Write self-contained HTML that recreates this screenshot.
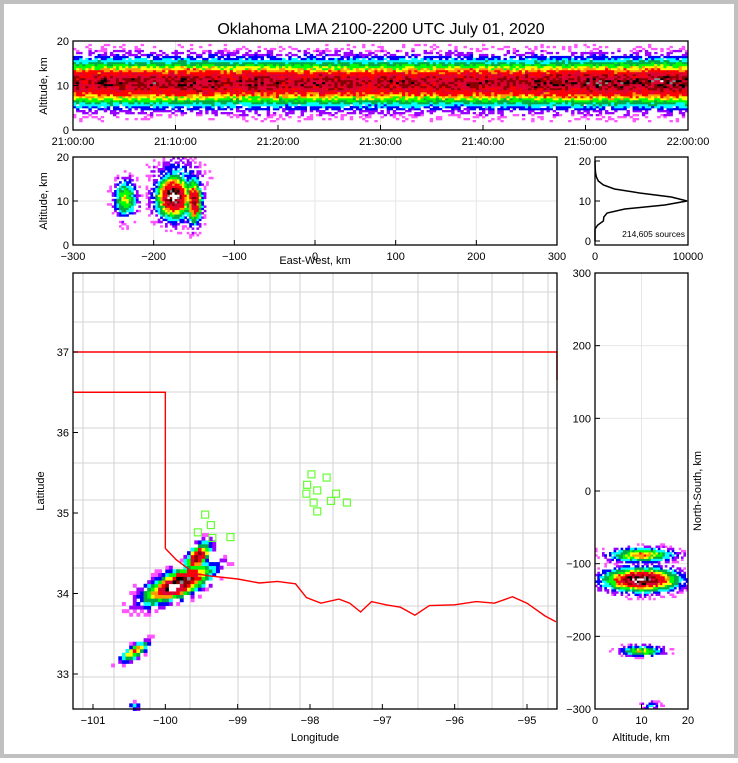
<!DOCTYPE html>
<html><head><meta charset="utf-8"><style>
body{margin:0;background:#fff}
svg text{font-family:"Liberation Sans",sans-serif;fill:#000}
</style></head><body>
<svg id="fig" width="738" height="758" viewBox="0 0 738 758" xmlns="http://www.w3.org/2000/svg">
<rect x="2" y="2" width="734" height="754" fill="#fff" stroke="#c0c0c0" stroke-width="4"/>
<text x="381" y="34" font-size="16" text-anchor="middle">Oklahoma LMA 2100-2200 UTC July 01, 2020</text>
<g id="layers"></g>
</svg>
<script>
// ---- data ----
const timeLabels=["21:00:00","21:10:00","21:20:00","21:30:00","21:40:00","21:50:00","22:00:00"];
const timePeaks=[0.83,0.86,0.85,0.87,0.84,0.87,0.86,0.83,0.85,0.86,0.82,0.84,0.85,0.83,0.81,0.83,0.84,0.82,0.83,0.85,0.84,0.83,0.86,0.87,0.88,0.89,0.88,0.87,0.9,0.89];
const timeCenterAlt=10.6;
const ewTicks=[-300,-200,-100,0,100,200,300];
const ewBlobsX=[-175,-150,-235,-170];
const ewBlobsAlt=[11,10,10.5,15.5];
const ewBlobsSx=[15,7,10,22];
const ewBlobsSy=[3.4,3.5,3,3];
const ewBlobsAmp=[1.0,0.86,0.55,0.3];
const profAlt=[0,1,2,3,4,5,6,7,8,9,10,11,12,13,14,15,16,17,18,19,20];
const profCount=[0,0,0,0,300,900,950,1300,3200,7500,9900,8200,4800,2100,900,350,150,60,25,10,5];
const lonTicks=[-101,-100,-99,-98,-97,-96,-95];
const latTicks=[33,34,35,36,37];
const mapBlobLon=[-99.82,-99.55,-100.42,-100.42];
const mapBlobLat=[34.12,34.45,33.28,32.6];
const mapBlobA=[0.34,0.15,0.15,0.05];
const mapBlobB=[0.11,0.08,0.055,0.035];
const mapBlobAng=[22,45,30,0];
const mapBlobAmp=[1.0,0.88,0.66,0.35];
const stationLon=[-97.98,-97.77,-98.04,-97.9,-97.64,-98.05,-97.95,-97.71,-97.49,-97.9,-99.45,-99.37,-99.55,-99.35,-99.1];
const stationLat=[35.48,35.44,35.35,35.28,35.24,35.24,35.13,35.15,35.13,35.02,34.98,34.85,34.76,34.69,34.7];
const nsTicks=[300,200,100,0,-100,-200,-300];
const nsBlobAlt=[10,10,10,12];
const nsBlobY=[-122,-88,-220,-295];
const nsBlobSa=[5.5,5,3.2,1.6];
const nsBlobSy=[11,7,5,4];
const nsBlobAmp=[1.0,0.62,0.55,0.3];
const redRiver=[[-100,34.56],[-99.85,34.42],[-99.6,34.25],[-99.4,34.22],[-99.0,34.18],[-98.7,34.13],[-98.45,34.15],[-98.2,34.12],[-98.05,33.95],[-97.85,33.88],[-97.6,33.93],[-97.45,33.88],[-97.3,33.77],[-97.15,33.9],[-96.95,33.86],[-96.75,33.83],[-96.55,33.73],[-96.35,33.85],[-96.0,33.86],[-95.7,33.9],[-95.45,33.88],[-95.2,33.96],[-95.0,33.88],[-94.75,33.72],[-94.6,33.65]];

// ---- helpers ----
const NS="http://www.w3.org/2000/svg";
const root=document.getElementById('layers');
function mk(tag,attrs,parent){const e=document.createElementNS(NS,tag);for(const k in attrs)e.setAttribute(k,attrs[k]);(parent||root).appendChild(e);return e;}
const stops=[[0,'#ff55ff'],[0.1,'#9900ff'],[0.18,'#0000ff'],[0.26,'#00ffff'],[0.34,'#00aa44'],[0.42,'#00ff00'],[0.5,'#ffff00'],[0.56,'#ff9900'],[0.62,'#ff0000'],[0.72,'#dd0033'],[0.82,'#880000'],[0.9,'#000000'],[0.95,'#888888'],[0.98,'#ffffff']];
function cmap(v){let c=stops[0][1];for(const s of stops)if(v>=s[0])c=s[1];return c;}
function lin(d0,d1,r0,r1){return v=>r0+(v-d0)/(d1-d0)*(r1-r0);}
function hsh(i,j,k){const s=Math.sin(i*12.9898+j*78.233+k*37.719)*43758.5453;return s-Math.floor(s);}

function frame(x,y,w,h,name){
  const r=mk('rect',{x:x,y:y,width:w,height:h,fill:'none',stroke:'#000','stroke-width':1.3});
  
  
}
function xtick(px,y0,y1,label,name){
  const g=mk('g',{});
  
  
  mk('line',{x1:px,x2:px,y1:y1,y2:y1-5,stroke:'#000','stroke-width':1},g);
  const t=mk('text',{x:px,y:y1+15,'font-size':11,'text-anchor':'middle'},g);t.textContent=label;
}
function ytick(py,x0,label,name){
  const g=mk('g',{});
  
  
  mk('line',{x1:x0,x2:x0+5,y1:py,y2:py,stroke:'#000','stroke-width':1},g);
  const t=mk('text',{x:x0-4,y:py+4,'font-size':11,'text-anchor':'end'},g);t.textContent=label;
}
function grid(x1,y1,x2,y2){mk('line',{x1:x1,y1:y1,x2:x2,y2:y2,stroke:'#e6e6e6','stroke-width':1});}
function label(x,y,txt,name,rot){
  const t=mk('text',{x:x,y:y,'font-size':11,'text-anchor':'middle'});
  if(rot)t.setAttribute('transform','rotate(-90 '+x+' '+y+')');
  t.textContent=txt;
  
  
}
// textured cell: v is density from data; hash only adds speckle texture
function cell(g,x,y,w,h,v,i,j){
  const h1=hsh(i,j,1),h2=hsh(i,j,2);
  let ve=v*(0.85+0.25*h1);
  if(ve<0.04)return;
  if(v<0.35&&h2>v/0.35+0.05)return;
  if(ve>1)ve=1;
  const r=mk('rect',{x:x.toFixed(1),y:y.toFixed(1),width:w,height:h,fill:cmap(ve)},g);
  
  
}

// ---- top panel: time-height ----
(function(){
  const X=lin(0,60,73,688),Y=lin(0,20,130,41);
  for(let i=0;i<=6;i++)grid(X(i*10),41,X(i*10),130);
  grid(73,Y(10),688,Y(10));
  const g=mk('g',{});
  
  
  const dt=0.3,da=0.45;
  let i=0;
  for(let t=0;t<60-1e-6;t+=dt,i++){
    const pk=timePeaks[Math.min(timePeaks.length-1,Math.floor(t/2))];
    let j=0;
    for(let a=0;a<20-1e-6;a+=da,j++){
      const d=a+da/2-timeCenterAlt;
      const v=pk*Math.exp(-d*d/(2*3.5*3.5));
      cell(g,X(t),Y(a+da),(X(dt)-X(0))+0.3,(Y(0)-Y(da))+0.3,v,i,j);
    }
  }
  frame(73,41,615,89,'time-height-axes');
  timeLabels.forEach((l,k)=>xtick(X(k*10),0,130,l,'time-tick'));
  [0,10,20].forEach(v=>ytick(Y(v),73,String(v),'alt-tick'));
  label(47,86,'Altitude, km','top-y-axis-title',true);
})();

// ---- EW vs altitude ----
(function(){
  const X=lin(-300,300,73,557),Y=lin(0,20,245,157);
  ewTicks.forEach(v=>grid(X(v),157,X(v),245));
  grid(73,Y(10),557,Y(10));
  const g=mk('g',{});
  
  
  const dx=3,da=0.5;
  let i=0;
  for(let x=-300;x<300;x+=dx,i++){let j=0;for(let a=0;a<20-1e-6;a+=da,j++){
    let v=0;
    for(let k=0;k<ewBlobsX.length;k++){
      const rx=(x+dx/2-ewBlobsX[k])/ewBlobsSx[k],ry=(a+da/2-ewBlobsAlt[k])/ewBlobsSy[k];
      v=Math.max(v,ewBlobsAmp[k]*Math.exp(-(rx*rx+ry*ry)/2));
    }
    if(v>0.03)cell(g,X(x),Y(a+da),(X(dx)-X(0))+0.3,(Y(0)-Y(da))+0.3,v,i+500,j);
  }}
  frame(73,157,484,88,'ew-altitude-axes');
  ewTicks.forEach(v=>xtick(X(v),0,245,v<0?'\u2212'+(-v):String(v),'ew-tick'));
  [0,10,20].forEach(v=>ytick(Y(v),73,String(v),'alt-tick'));
  label(47,201,'Altitude, km','ew-y-axis-title',true);
  label(315,264,'East-West, km','ew-x-axis-title');
})();

// ---- altitude histogram ----
(function(){
  const X=lin(0,10000,595,688),Y=lin(0,20,241,161);
  let d='';
  profAlt.forEach((a,i)=>{d+=(i?'L':'M')+X(profCount[i]).toFixed(1)+','+Y(a).toFixed(1);});
  const p=mk('path',{d:d,fill:'none',stroke:'#000','stroke-width':1.5});
  
  
  frame(595,157,93,88,'profile-axes');
  [[0,'0'],[10000,'10000']].forEach(v=>xtick(X(v[0]),0,245,v[1],'count-tick'));
  [0,10,20].forEach(v=>ytick(Y(v),595,String(v),'profile-alt-tick'));
  const t=mk('text',{x:685,y:237,'font-size':8.5,'text-anchor':'end'});t.textContent='214,605 sources';
  
  
})();

// ---- map ----
(function(){
  const X=lin(-101,-95,93,527),Y=lin(33,37,674,352);
  const cg=mk('g',{stroke:'#d4d4d4','stroke-width':1.1,fill:'none'});
  
  
  const hy=[292,322,352,392,428,463,500,533,568,606,642,677];
  const vx=[83,114,150,190,238,270,300,333,372,418,458,492,523,548];
  hy.forEach(y=>mk('line',{x1:73,x2:557,y1:y,y2:y},cg));
  vx.forEach(x=>mk('line',{x1:x,x2:x,y1:273,y2:709},cg));
  const mg=mk('g',{});
  
  
  const dl=0.05,db=0.045;
  let i=0;
  for(let lo=-101.2;lo<-94.6;lo+=dl,i++){let j=0;for(let la=32.5;la<38;la+=db,j++){
    let v=0;
    for(let k=0;k<mapBlobLon.length;k++){
      const ang=mapBlobAng[k]*Math.PI/180,ux=lo+dl/2-mapBlobLon[k],uy=la+db/2-mapBlobLat[k];
      const p=(ux*Math.cos(ang)+uy*Math.sin(ang))/mapBlobA[k],q=(-ux*Math.sin(ang)+uy*Math.cos(ang))/mapBlobB[k];
      v=Math.max(v,mapBlobAmp[k]*Math.exp(-(p*p+q*q)/2));
    }
    if(v>0.03)cell(mg,X(lo),Y(la+db),(X(dl)-X(0))+0.3,(Y(0)-Y(db))+0.3,v,i+1000,j);
  }}
  let d='M73,'+Y(36.5)+'L'+X(-100)+','+Y(36.5)+'L'+X(-100)+','+Y(34.56);
  redRiver.forEach(p=>{d+='L'+X(p[0]).toFixed(1)+','+Y(p[1]).toFixed(1);});
  const b=mk('path',{d:d,fill:'none',stroke:'#ff0000','stroke-width':1.4});
  
  
  const b2=mk('path',{d:'M73,'+Y(37)+'L557,'+Y(37)+'L557,380',fill:'none',stroke:'#ff0000','stroke-width':1.4});
  
  
  stationLon.forEach((lo,k)=>{
    const r=mk('rect',{x:X(lo)-3.5,y:Y(stationLat[k])-3.5,width:7,height:7,fill:'none',stroke:'#66ff33','stroke-width':1.2});
    
    
  });
  frame(73,273,484,436,'map-axes');
  lonTicks.forEach(v=>xtick(X(v),0,709,'\u2212'+(-v),'lon-tick'));
  latTicks.forEach(v=>ytick(Y(v),73,String(v),'lat-tick'));
  label(315,741,'Longitude','map-x-axis-title');
  label(44,491,'Latitude','map-y-axis-title',true);
})();

// ---- NS vs altitude ----
(function(){
  const X=lin(0,20,595,688),Y=lin(-300,300,709,273);
  nsTicks.forEach(v=>grid(595,Y(v),688,Y(v)));
  grid(X(10),273,X(10),709);
  const g=mk('g',{});
  
  
  const da=0.5,dy=3;
  let i=0;
  for(let a=0;a<20-1e-6;a+=da,i++){let j=0;for(let y=-300;y<300;y+=dy,j++){
    let v=0;
    for(let k=0;k<nsBlobAlt.length;k++){
      const ra=(a+da/2-nsBlobAlt[k])/nsBlobSa[k],ry=(y+dy/2-nsBlobY[k])/nsBlobSy[k];
      v=Math.max(v,nsBlobAmp[k]*Math.exp(-(ra*ra+ry*ry)/2));
    }
    if(v>0.03)cell(g,X(a),Y(y+dy),(X(da)-X(0))+0.3,(Y(0)-Y(dy))+0.3,v,i+2000,j);
  }}
  frame(595,273,93,436,'ns-altitude-axes');
  [0,10,20].forEach(v=>xtick(X(v),0,709,String(v),'ns-alt-tick'));
  nsTicks.forEach(v=>ytick(Y(v),595,v<0?'\u2212'+(-v):String(v),'ns-tick'));
  label(641,741,'Altitude, km','ns-x-axis-title');
  label(701,491,'North-South, km','ns-y-axis-title',true);
})();
</script>
</body></html>
